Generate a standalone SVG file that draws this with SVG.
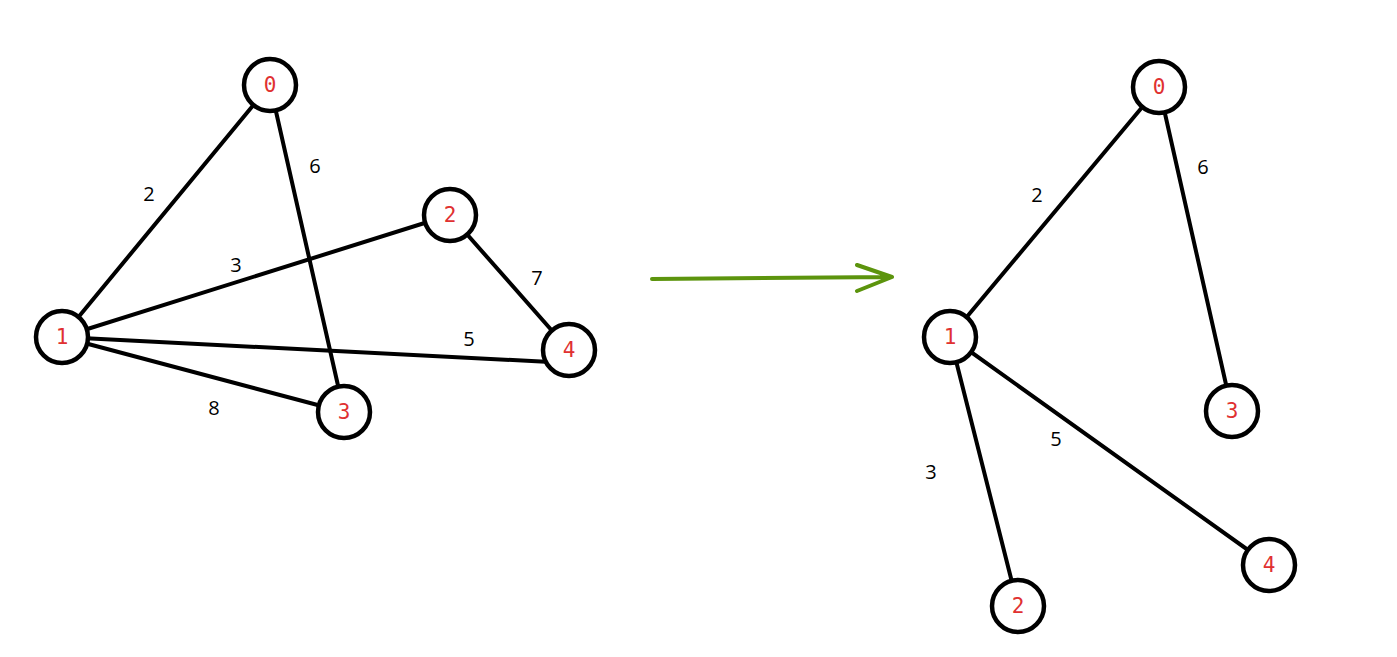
<svg xmlns="http://www.w3.org/2000/svg" width="1397" height="657" viewBox="0 0 1397 657">
<style>
.e{stroke:#000;stroke-width:4;stroke-linecap:round;fill:none}
.n circle{fill:#fff;stroke:#000;stroke-width:4.5}
.n text{font-family:"DejaVu Sans Mono",monospace;font-size:21px;fill:#e03131;text-anchor:middle;dominant-baseline:central}
.w{font-family:"Open Sans",sans-serif;font-size:20px;fill:#000;text-anchor:middle;dominant-baseline:central}
</style>
<rect width="1397" height="657" fill="#fff"/>
<g id="connectors">
<line class="e" x1="62" y1="337" x2="270" y2="85"/>
<line class="e" x1="270" y1="85" x2="344" y2="412"/>
<line class="e" x1="62" y1="337" x2="450" y2="215"/>
<line class="e" x1="450" y1="215" x2="569" y2="350"/>
<line class="e" x1="62" y1="337" x2="569" y2="363"/>
<line class="e" x1="62" y1="337" x2="344" y2="412"/>
<line class="e" x1="950" y1="337" x2="1159" y2="87"/>
<line class="e" x1="1159" y1="87" x2="1232" y2="411"/>
<line class="e" x1="950" y1="337" x2="1018" y2="606"/>
<line class="e" x1="950" y1="337" x2="1269" y2="565"/>
<path d="M652 279 L892 277 M857 265 L892 277 L857 291" fill="none" stroke="#5c940d" stroke-width="4" stroke-linecap="round" stroke-linejoin="round"/>
<text class="w" x="149" y="193">2</text>
<text class="w" x="315" y="165">6</text>
<text class="w" x="236" y="264">3</text>
<text class="w" x="537" y="277">7</text>
<text class="w" x="469" y="338">5</text>
<text class="w" x="214" y="407">8</text>
<text class="w" x="1037" y="194">2</text>
<text class="w" x="1203" y="166">6</text>
<text class="w" x="931" y="471">3</text>
<text class="w" x="1056" y="438">5</text>
</g>
<g id="L0" class="n"><circle cx="270" cy="85" r="26"/><text x="270" y="85">0</text></g>
<g id="L1" class="n"><circle cx="62" cy="337" r="26"/><text x="62" y="337">1</text></g>
<g id="L2" class="n"><circle cx="450" cy="215" r="26"/><text x="450" y="215">2</text></g>
<g id="L3" class="n"><circle cx="344" cy="412" r="26"/><text x="344" y="412">3</text></g>
<g id="L4" class="n"><circle cx="569" cy="350" r="26"/><text x="569" y="350">4</text></g>
<g id="R0" class="n"><circle cx="1159" cy="87" r="26"/><text x="1159" y="87">0</text></g>
<g id="R1" class="n"><circle cx="950" cy="337" r="26"/><text x="950" y="337">1</text></g>
<g id="R2" class="n"><circle cx="1018" cy="606" r="26"/><text x="1018" y="606">2</text></g>
<g id="R3" class="n"><circle cx="1232" cy="411" r="26"/><text x="1232" y="411">3</text></g>
<g id="R4" class="n"><circle cx="1269" cy="565" r="26"/><text x="1269" y="565">4</text></g>
</svg>
